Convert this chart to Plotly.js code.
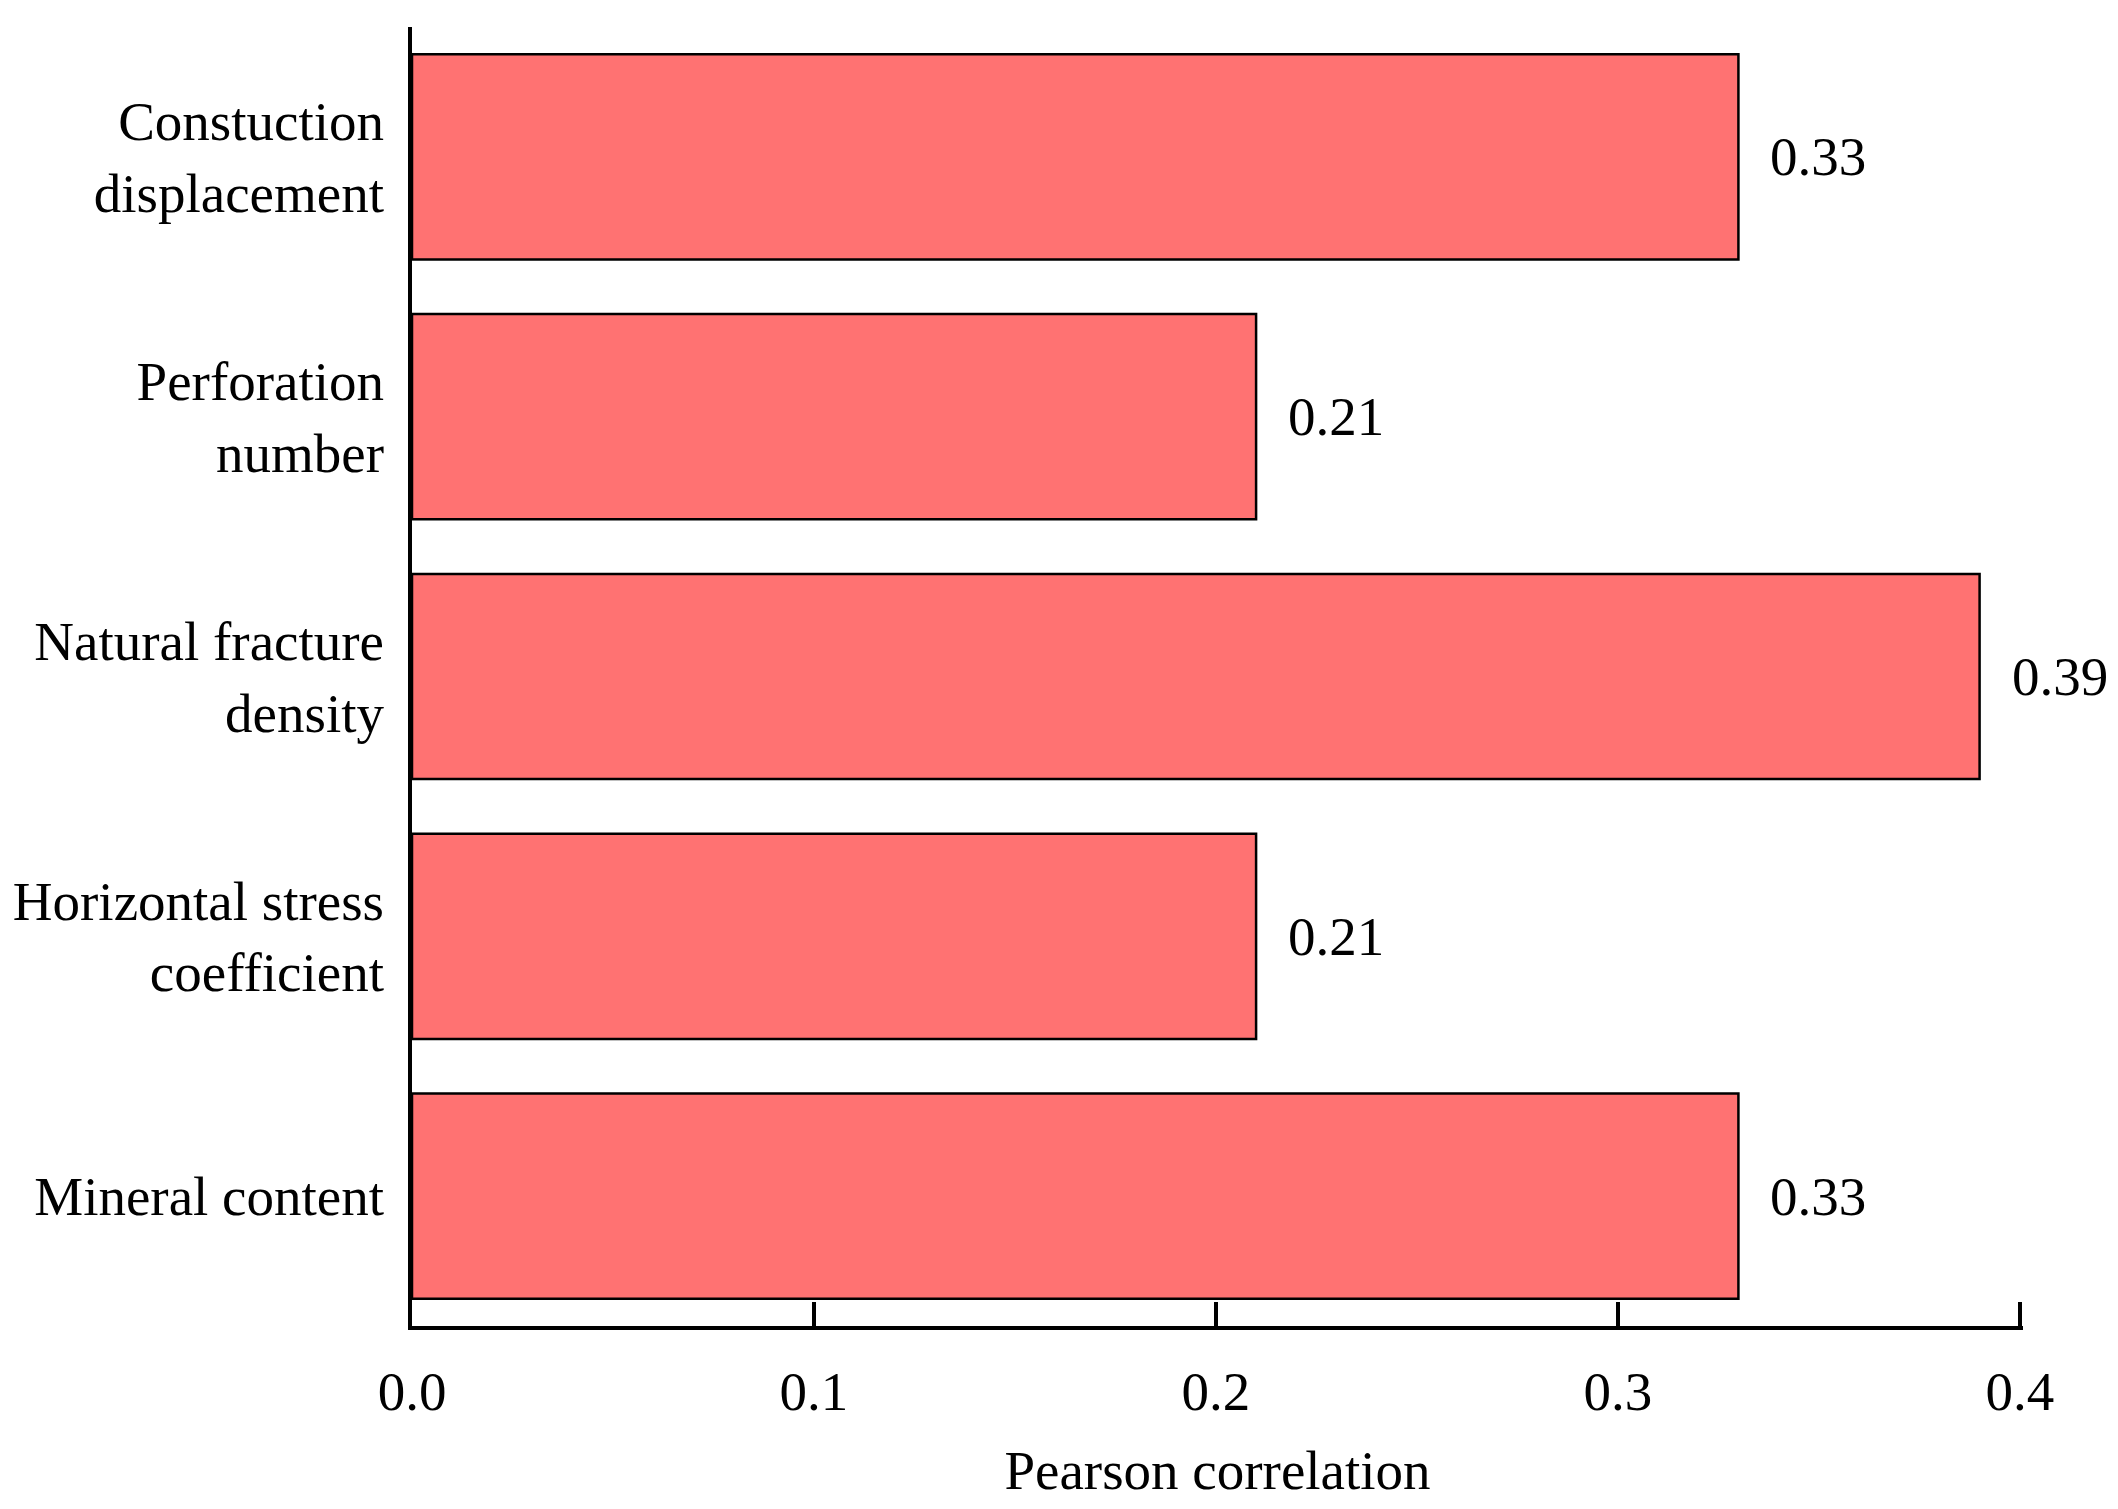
<!DOCTYPE html>
<html>
<head>
<meta charset="utf-8">
<script src="https://cdn.plot.ly/plotly-3.0.1.min.js"></script>
<style>
  html, body { margin: 0; padding: 0; background: #ffffff; }
  #chart { width: 2118px; height: 1509px; }
</style>
</head>
<body>
<div id="chart"></div>
<script>
// Data
const categories = [
  "Constuction<br>displacement",
  "Perforation<br>number",
  "Natural fracture<br>density",
  "Horizontal stress<br>coefficient",
  "Mineral content"
];
const pearsonValues = [0.33, 0.21, 0.39, 0.21, 0.33];
const xTickValues = [0, 0.1, 0.2, 0.3, 0.4];
const xTickLabels = ["0.0", "0.1", "0.2", "0.3", "0.4"];
const xAxisTitle = "Pearson correlation";

const FONT = '"Liberation Serif", "Times New Roman", Times, serif';

const trace = {
  type: 'bar',
  orientation: 'h',
  x: pearsonValues,
  y: categories,
  width: 0.79,
  marker: {
    color: '#FF7272',
    line: { color: '#000000', width: 2.5 }
  },
  hoverinfo: 'none'
};

const annotations = pearsonValues.map((v, i) => ({
  x: v,
  y: categories[i],
  xref: 'x',
  yref: 'y',
  text: v.toFixed(2),
  showarrow: false,
  xanchor: 'left',
  yanchor: 'middle',
  xshift: 30,
  font: { family: FONT, size: 55, color: '#000000' }
}));

const layout = {
  width: 2118,
  height: 1509,
  margin: { l: 412, r: 95, t: 27, b: 183, pad: 0 },
  paper_bgcolor: '#ffffff',
  plot_bgcolor: '#ffffff',
  showlegend: false,
  font: { family: FONT, size: 55, color: '#000000' },
  xaxis: {
    range: [0, 0.4008],
    tickmode: 'array',
    tickvals: xTickValues,
    ticktext: xTickLabels,
    ticks: 'inside',
    ticklen: 24,
    tickwidth: 4,
    tickcolor: '#000000',
    showline: true,
    linecolor: '#000000',
    linewidth: 4,
    showgrid: false,
    zeroline: false,
    tickfont: { family: FONT, size: 55, color: '#000000' },
    ticklabelstandoff: 14,
    automargin: false,
    title: {
      text: xAxisTitle,
      font: { family: FONT, size: 55, color: '#000000' },
      standoff: 30
    }
  },
  yaxis: {
    type: 'category',
    categoryorder: 'array',
    categoryarray: categories,
    range: [4.5, -0.5],
    showline: true,
    linecolor: '#000000',
    linewidth: 4,
    ticks: '',
    showgrid: false,
    zeroline: false,
    tickfont: { family: FONT, size: 55, color: '#000000' },
    ticklabelstandoff: 13,
    automargin: false
  },
  annotations: annotations
};

Plotly.newPlot('chart', [trace], layout, { displayModeBar: false, staticPlot: true });
</script>
</body>
</html>
